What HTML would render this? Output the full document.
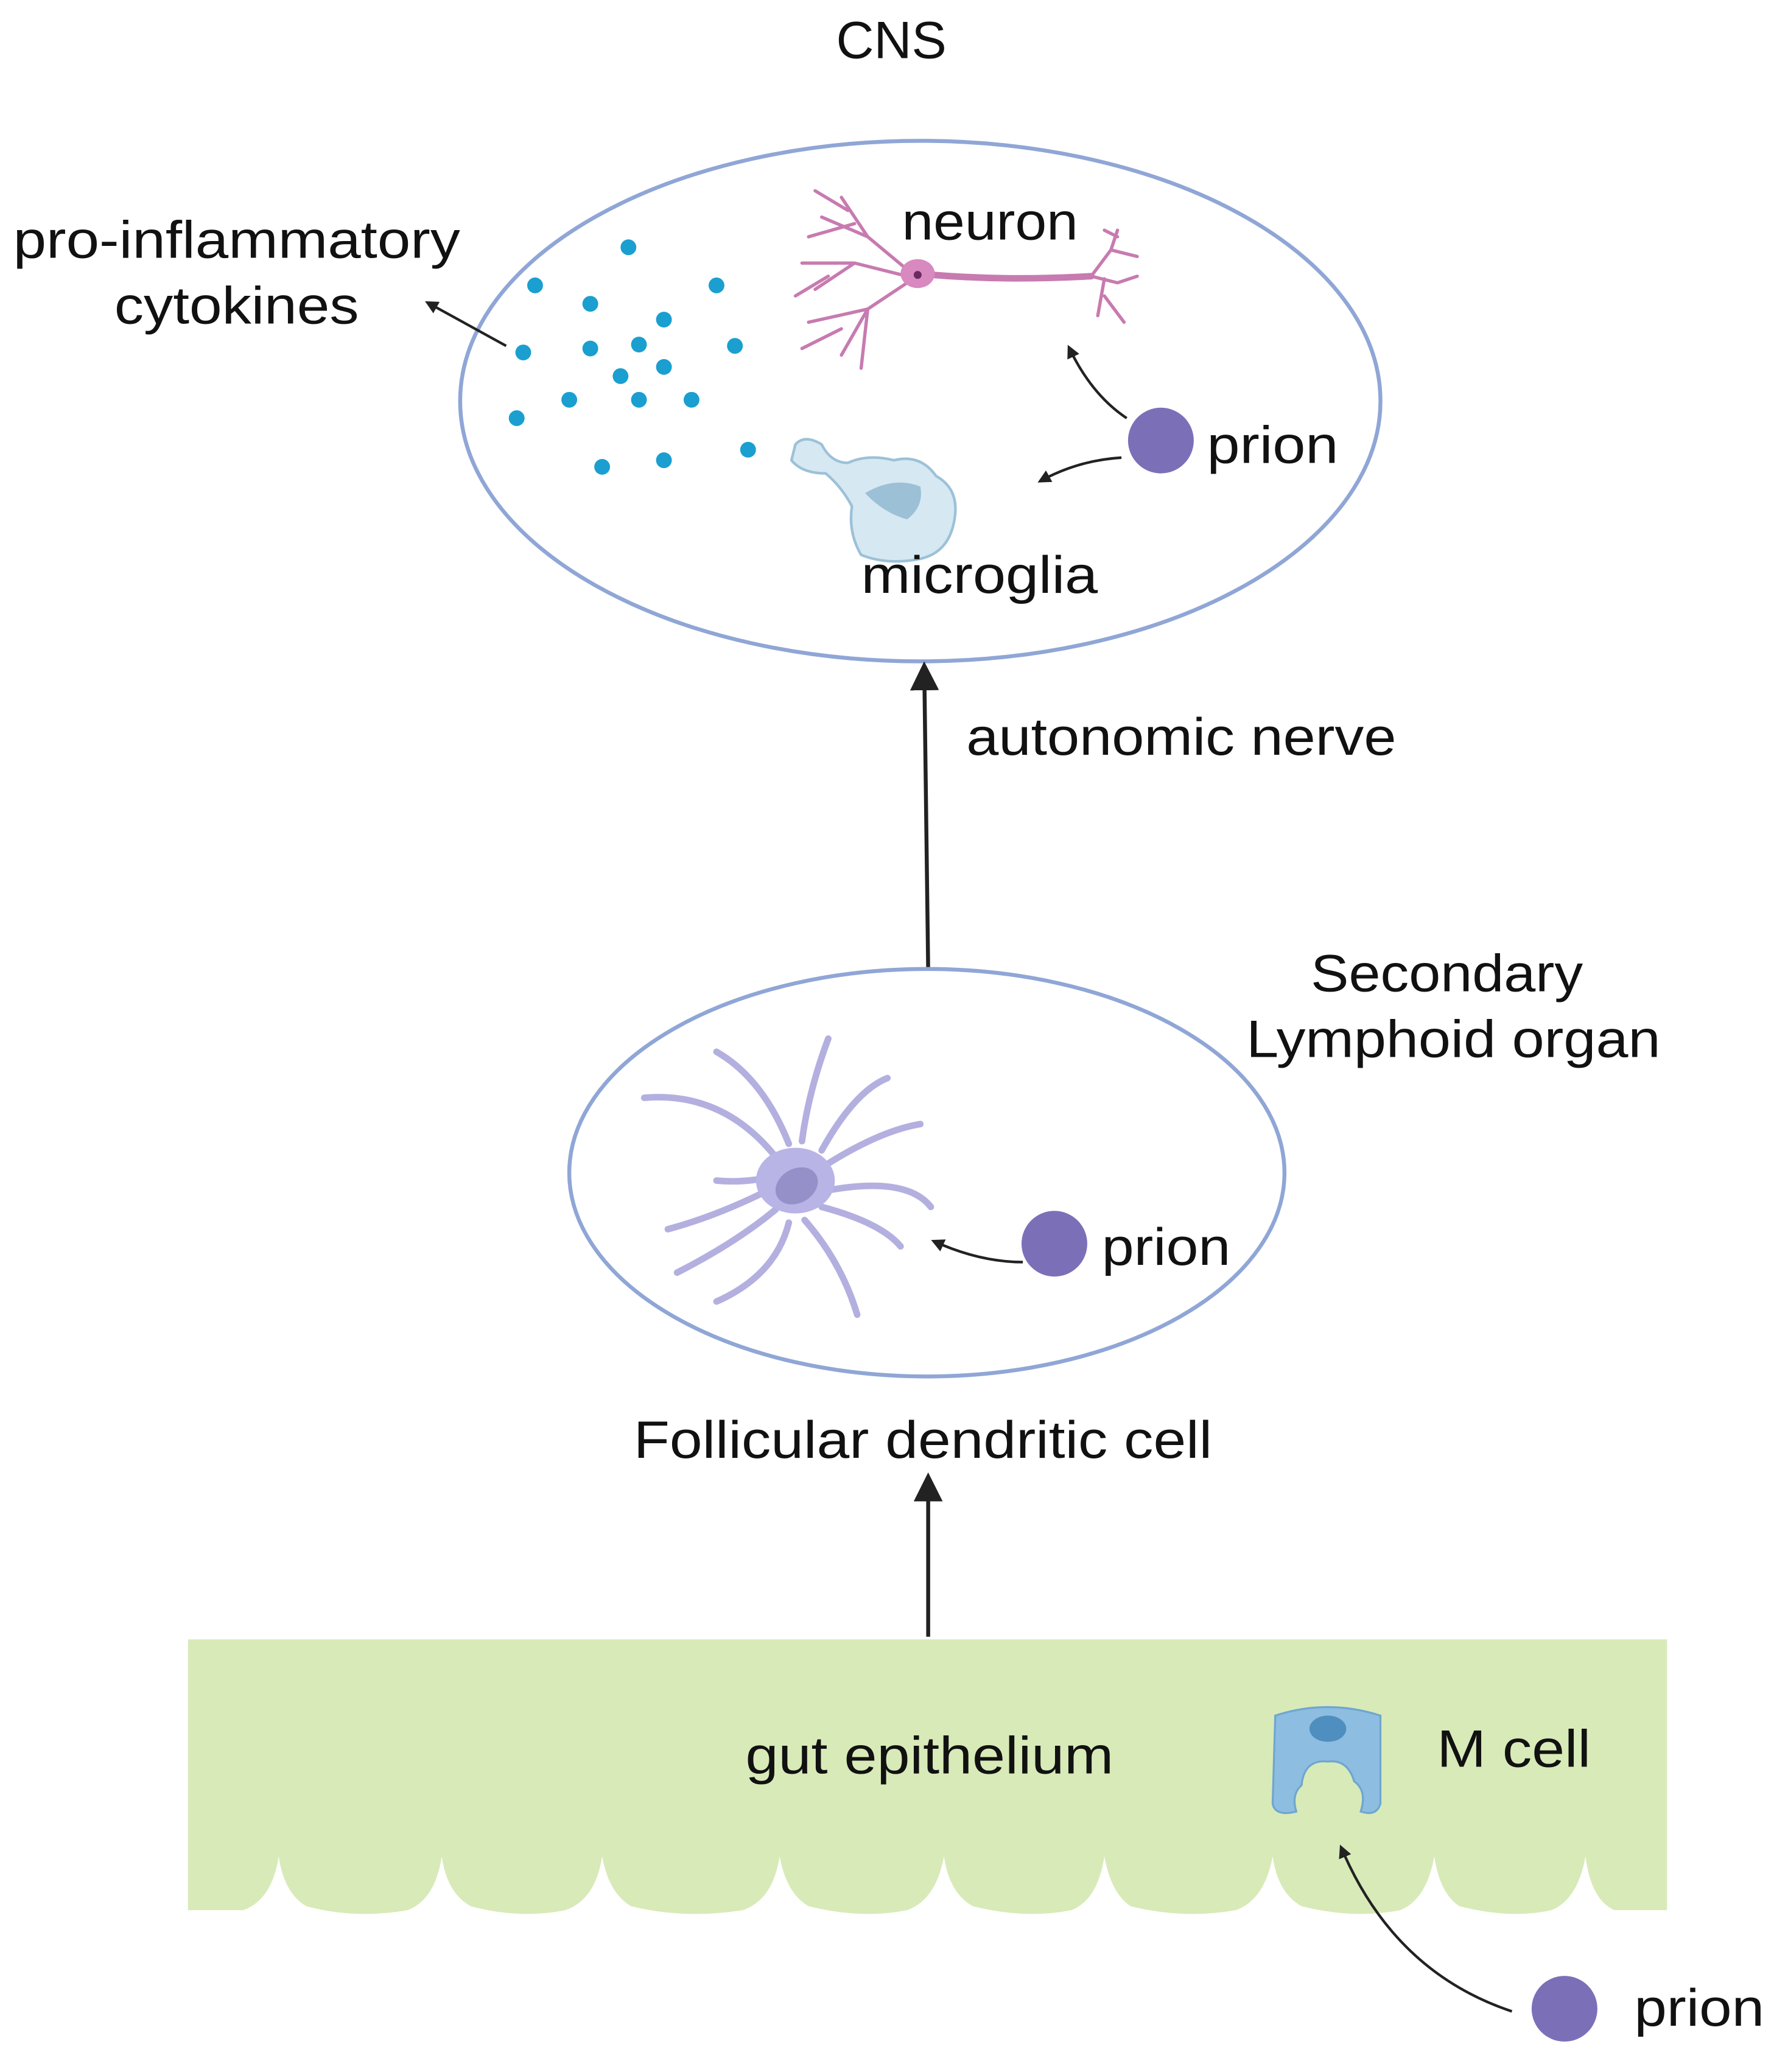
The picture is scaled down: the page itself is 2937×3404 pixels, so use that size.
<!DOCTYPE html>
<html><head><meta charset="utf-8"><style>
html,body{margin:0;padding:0;background:#fff;}
svg{display:block;}
text{font-family:"Liberation Sans",sans-serif;fill:#111;}
</style></head><body>
<svg width="2937" height="3404" viewBox="0 0 1360 1576" xmlns="http://www.w3.org/2000/svg">
<defs>
<marker id="ah" markerWidth="10" markerHeight="10" refX="8" refY="5" orient="auto" markerUnits="userSpaceOnUse"><path d="M0,0 L10,5 L0,10 z" fill="#222"/></marker>
<marker id="ahb" markerWidth="22" markerHeight="22" refX="18" refY="11" orient="auto" markerUnits="userSpaceOnUse"><path d="M0,0 L22,11 L0,22 z" fill="#222"/></marker>
</defs>
<ellipse cx="700" cy="305" rx="350" ry="198" fill="none" stroke="#8fa6d6" stroke-width="3"/>
<line x1="385" y1="263" x2="325" y2="230" stroke="#222" stroke-width="2" marker-end="url(#ah)"/>
<g fill="#1a9fd0">
<circle cx="478" cy="188" r="6"/><circle cx="407" cy="217" r="6"/><circle cx="449" cy="231" r="6"/><circle cx="545" cy="217" r="6"/><circle cx="505" cy="243" r="6"/><circle cx="398" cy="268" r="6"/><circle cx="449" cy="265" r="6"/><circle cx="486" cy="262" r="6"/><circle cx="559" cy="263" r="6"/><circle cx="505" cy="279" r="6"/><circle cx="472" cy="286" r="6"/><circle cx="433" cy="304" r="6"/><circle cx="486" cy="304" r="6"/><circle cx="526" cy="304" r="6"/><circle cx="393" cy="318" r="6"/><circle cx="458" cy="355" r="6"/><circle cx="505" cy="350" r="6"/><circle cx="569" cy="342" r="6"/>
</g>
<g stroke="#c77bb0" fill="none" stroke-width="2.5" stroke-linecap="round">
<path d="M698,208 Q760,214 830,210" stroke-width="5"/>
<path d="M690,205 L660,180 L640,150 M660,180 L625,165 M650,170 L615,180 M690,210 L650,200 L610,200 M650,200 L620,220 M690,215 L660,235 L640,270 M660,235 L615,245 M640,250 L610,265 M660,235 L655,280 M645,160 L620,145 M630,210 L605,225"/>
<path d="M830,210 L845,190 L850,175 M845,190 L865,195 M830,210 L850,215 L865,210 M840,212 L835,240 M840,225 L855,245 M850,180 L840,175"/>
</g>
<ellipse cx="698" cy="208" rx="13" ry="11" fill="#d889bf"/>
<circle cx="698" cy="209" r="3" fill="#6a2a60"/>
<circle cx="883" cy="335" r="25" fill="#7b70b8"/>
<path d="M857,318 Q830,300 813,264" fill="none" stroke="#222" stroke-width="2" marker-end="url(#ah)"/>
<path d="M853,348 Q820,350 791,366" fill="none" stroke="#222" stroke-width="2" marker-end="url(#ah)"/>
<path d="M605,338 Q612,330 625,338 Q632,352 645,352 Q660,345 680,350 Q700,345 712,362 Q730,372 726,395 Q722,420 700,425 Q675,430 655,422 Q645,405 648,385 Q640,370 628,360 Q610,360 602,350 Z" fill="#d6e8f2" stroke="#9cc1d8" stroke-width="2"/>
<path d="M658,375 Q680,362 700,370 Q703,385 690,395 Q672,390 658,375 Z" fill="#9cc0d6"/>
<line x1="706" y1="738" x2="703" y2="507" stroke="#222" stroke-width="3" marker-end="url(#ahb)"/>
<ellipse cx="705" cy="892" rx="272" ry="155" fill="none" stroke="#8fa6d6" stroke-width="3"/>
<g stroke="#b3b0e0" stroke-width="5" fill="none" stroke-linecap="round">
<path d="M590,880 Q550,830 490,835"/><path d="M600,870 Q580,820 545,800"/><path d="M610,868 Q615,830 630,790"/><path d="M625,875 Q650,830 675,820"/><path d="M630,885 Q670,860 700,855"/><path d="M632,905 Q690,895 708,918"/><path d="M625,918 Q670,930 685,948"/><path d="M612,928 Q640,960 652,1000"/><path d="M600,930 Q590,970 545,990"/><path d="M590,920 Q560,945 515,968"/><path d="M585,905 Q545,925 508,935"/><path d="M588,895 Q565,900 545,898"/>
</g>
<ellipse cx="605" cy="898" rx="30" ry="25" fill="#b8b4e6"/>
<ellipse cx="606" cy="902" rx="17" ry="13" fill="#9590c8" transform="rotate(-30 606 902)"/>
<circle cx="802" cy="946" r="25" fill="#7b70b8"/>
<path d="M778,960 Q745,960 710,944" fill="none" stroke="#222" stroke-width="2" marker-end="url(#ah)"/>
<line x1="706" y1="1245" x2="706" y2="1124" stroke="#222" stroke-width="3" marker-end="url(#ahb)"/>
<path d="M143,1247 L1268,1247 L1268,1453 L1228,1453 Q1210,1445 1206,1412 Q1200,1445 1180,1453 Q1150,1460 1110,1450 Q1095,1440 1091,1412 Q1085,1445 1065,1453 Q1030,1460 990,1450 Q972,1440 968,1412 Q962,1445 940,1453 Q900,1460 860,1450 Q845,1440 840,1412 Q835,1445 815,1453 Q780,1460 740,1450 Q722,1440 718,1412 Q712,1445 690,1453 Q655,1460 615,1450 Q598,1440 593,1412 Q588,1445 565,1453 Q520,1460 480,1450 Q463,1440 458,1412 Q453,1445 430,1453 Q395,1460 358,1450 Q340,1440 336,1412 Q331,1445 310,1453 Q270,1460 233,1450 Q216,1440 212,1412 Q207,1445 185,1453 L143,1453 Z" fill="#d8eab8"/>
<path d="M970,1305 Q1010,1292 1050,1305 L1050,1372 Q1047,1382 1035,1378 Q1040,1362 1030,1355 Q1025,1338 1010,1340 Q992,1338 990,1358 Q982,1365 986,1378 Q970,1382 968,1372 Z" fill="#8dbde0" stroke="#6fa6d0" stroke-width="1.5"/>
<ellipse cx="1010" cy="1315" rx="14" ry="10" fill="#4f8fbf"/>
<circle cx="1190" cy="1528" r="25" fill="#7b70b8"/>
<path d="M1150,1530 Q1060,1500 1020,1405" fill="none" stroke="#222" stroke-width="2" marker-end="url(#ah)"/>
<g font-size="40">
<text x="636" y="44" textLength="84" lengthAdjust="spacingAndGlyphs">CNS</text>
<text x="10" y="196" textLength="340" lengthAdjust="spacingAndGlyphs">pro-inflammatory</text>
<text x="87" y="246" textLength="186" lengthAdjust="spacingAndGlyphs">cytokines</text>
<text x="686" y="182" textLength="134" lengthAdjust="spacingAndGlyphs">neuron</text>
<text x="918" y="352" textLength="100" lengthAdjust="spacingAndGlyphs">prion</text>
<text x="655" y="451" textLength="180" lengthAdjust="spacingAndGlyphs">microglia</text>
<text x="735" y="574" textLength="327" lengthAdjust="spacingAndGlyphs">autonomic nerve</text>
<text x="997" y="754" textLength="207" lengthAdjust="spacingAndGlyphs">Secondary</text>
<text x="948" y="804" textLength="315" lengthAdjust="spacingAndGlyphs">Lymphoid organ</text>
<text x="838" y="962" textLength="98" lengthAdjust="spacingAndGlyphs">prion</text>
<text x="482" y="1109" textLength="440" lengthAdjust="spacingAndGlyphs">Follicular dendritic cell</text>
<text x="567" y="1349" textLength="280" lengthAdjust="spacingAndGlyphs">gut epithelium</text>
<text x="1093" y="1344" textLength="117" lengthAdjust="spacingAndGlyphs">M cell</text>
<text x="1243" y="1541" textLength="99" lengthAdjust="spacingAndGlyphs">prion</text>
</g>
</svg>
</body></html>
